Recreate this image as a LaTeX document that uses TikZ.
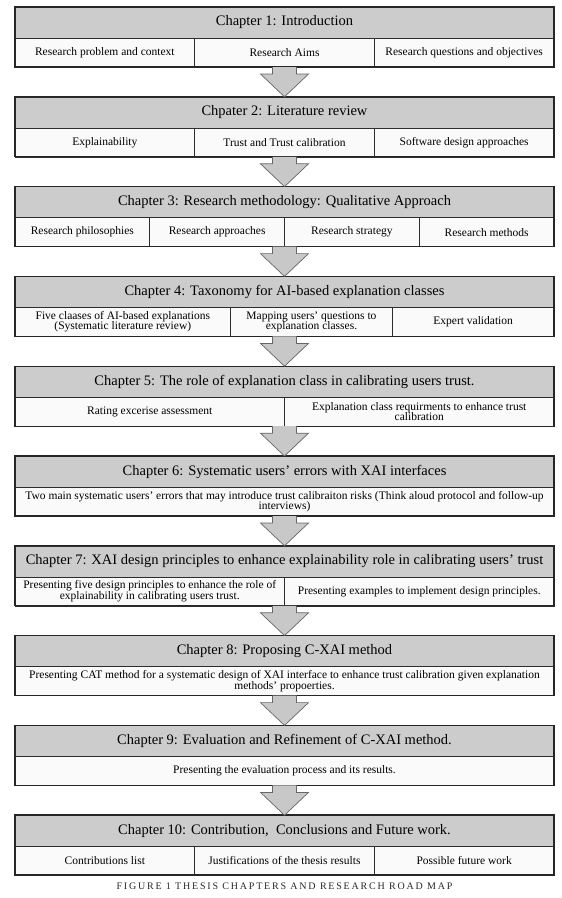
\documentclass[tikz,border=0pt]{standalone}
\usepackage{fontspec}
\setmainfont{Liberation Serif}
\usetikzlibrary{positioning,fit}

\definecolor{headgray}{RGB}{204,204,204}
\definecolor{cellwhite}{RGB}{250,250,250}
\definecolor{arrowgray}{RGB}{200,200,200}
\definecolor{linegray}{RGB}{45,45,45}

\begin{document}
\begin{tikzpicture}[x=1pt, y=-1pt,
  chead/.style={draw=linegray, fill=headgray, line width=0.6pt, minimum width=539pt, minimum height=31pt,
                inner sep=0pt, outer sep=0pt, font=\fontsize{14.5}{16}\selectfont},
  cell/.style={draw=linegray, fill=cellwhite, line width=0.6pt, minimum width=#1, minimum height=29pt,
               inner sep=1pt, outer sep=0pt, align=center, font=\fontsize{11.5}{12}\selectfont},
  twoline/.style={font=\fontsize{11.5}{10.5}\selectfont},
  frame/.style={draw=black!85, line width=1.2pt, inner sep=0pt, outer sep=0pt},
  flow/.style={draw=black!60, fill=arrowgray, line width=0.7pt,
               to path={([xshift=-12pt]\tikztostart.south) -- ++(0,7) -- ++(-12,0) -- (\tikztotarget.north)
                        -- ([xshift=24pt,yshift=-7pt]\tikztostart.south) -- ++(-12,0) -- ([xshift=12pt]\tikztostart.south)}},
  caption/.style={inner sep=0pt, text=black!85, font=\fontsize{10}{12}\selectfont\addfontfeatures{LetterSpace=18}},
]
\useasboundingbox (0,0) rectangle (562,898);

% chapter 1
\node[chead] (h1) at (284.5,22.5) {Chapter 1: Introduction};
\node[cell=179.67pt, anchor=north west] (r1a) at (h1.south west) {Research problem and context};
\node[cell=179.67pt, right=0pt of r1a] (r1b) {Research Aims};
\node[cell=179.67pt, right=0pt of r1b] (r1c) {Research questions and objectives};
\node[frame, fit=(h1)(r1a)(r1c)] (ch1) {};

% chapter 2
\node[chead, below=29.8pt of ch1] (h2) {Chpater 2: Literature review};
\node[cell=179.67pt, anchor=north west] (r2a) at (h2.south west) {Explainability};
\node[cell=179.67pt, right=0pt of r2a] (r2b) {Trust and Trust calibration};
\node[cell=179.67pt, right=0pt of r2b] (r2c) {Software design approaches};
\node[frame, fit=(h2)(r2a)(r2c)] (ch2) {};

% chapter 3
\node[chead, below=29.8pt of ch2] (h3) {Chapter 3: Research methodology: Qualitative Approach};
\node[cell=134.75pt, anchor=north west] (r3a) at (h3.south west) {Research philosophies};
\node[cell=134.75pt, right=0pt of r3a] (r3b) {Research approaches};
\node[cell=134.75pt, right=0pt of r3b] (r3c) {Research strategy};
\node[cell=134.75pt, right=0pt of r3c] (r3d) {Research methods};
\node[frame, fit=(h3)(r3a)(r3d)] (ch3) {};

% chapter 4
\node[chead, below=29.8pt of ch3] (h4) {Chapter 4: Taxonomy for AI-based explanation classes};
\node[cell=215.6pt, twoline, anchor=north west] (r4a) at (h4.south west) {Five claases of AI-based explanations\\(Systematic literature review)};
\node[cell=161.7pt, twoline, right=0pt of r4a] (r4b) {Mapping users' questions to\\explanation classes.};
\node[cell=161.7pt, right=0pt of r4b] (r4c) {Expert validation};
\node[frame, fit=(h4)(r4a)(r4c)] (ch4) {};

% chapter 5
\node[chead, below=29.8pt of ch4] (h5) {Chapter 5: The role of explanation class in calibrating users trust.};
\node[cell=269.5pt, anchor=north west] (r5a) at (h5.south west) {Rating excerise assessment};
\node[cell=269.5pt, twoline, right=0pt of r5a] (r5b) {Explanation class requirments to enhance trust\\calibration};
\node[frame, fit=(h5)(r5a)(r5b)] (ch5) {};

% chapter 6
\node[chead, below=29.8pt of ch5] (h6) {Chapter 6: Systematic users' errors with XAI interfaces};
\node[cell=539pt, twoline, anchor=north west] (r6a) at (h6.south west) {Two main systematic users' errors that may introduce trust calibraiton risks (Think aloud protocol and follow-up\\interviews)};
\node[frame, fit=(h6)(r6a)] (ch6) {};

% chapter 7
\node[chead, below=29.8pt of ch6] (h7) {Chapter 7: XAI design principles to enhance explainability role in calibrating users' trust};
\node[cell=269.5pt, twoline, anchor=north west] (r7a) at (h7.south west) {Presenting five design principles to enhance the role of\\explainability in calibrating users trust.};
\node[cell=269.5pt, right=0pt of r7a] (r7b) {Presenting examples to implement design principles.};
\node[frame, fit=(h7)(r7a)(r7b)] (ch7) {};

% chapter 8
\node[chead, below=29.8pt of ch7] (h8) {Chapter 8: Proposing C-XAI method};
\node[cell=539pt, twoline, anchor=north west] (r8a) at (h8.south west) {Presenting CAT method for a systematic design of XAI interface to enhance trust calibration given explanation\\methods' propoerties.};
\node[frame, fit=(h8)(r8a)] (ch8) {};

% chapter 9
\node[chead, below=29.8pt of ch8] (h9) {Chapter 9: Evaluation and Refinement of C-XAI method.};
\node[cell=539pt, anchor=north west] (r9a) at (h9.south west) {Presenting the evaluation process and its results.};
\node[frame, fit=(h9)(r9a)] (ch9) {};

% chapter 10
\node[chead, below=29.8pt of ch9] (h10) {Chapter 10: Contribution,\enspace Conclusions and Future work.};
\node[cell=179.67pt, anchor=north west] (r10a) at (h10.south west) {Contributions list};
\node[cell=179.67pt, right=0pt of r10a] (r10b) {Justifications of the thesis results};
\node[cell=179.67pt, right=0pt of r10b] (r10c) {Possible future work};
\node[frame, line width=1.6pt, fit=(h10)(r10a)(r10c)] (ch10) {};

% road map arrows
\draw[flow] (ch1) to (h2);
\draw[flow] (ch2) to (h3);
\draw[flow] (ch3) to (h4);
\draw[flow] (ch4) to (h5);
\draw[flow] (ch5) to (h6);
\draw[flow] (ch6) to (h7);
\draw[flow] (ch7) to (h8);
\draw[flow] (ch8) to (h9);
\draw[flow] (ch9) to (h10);

\node[caption] (cap) at (284.5,886.5) {FIGURE 1 THESIS CHAPTERS AND RESEARCH ROAD MAP};

\end{tikzpicture}
\end{document}
